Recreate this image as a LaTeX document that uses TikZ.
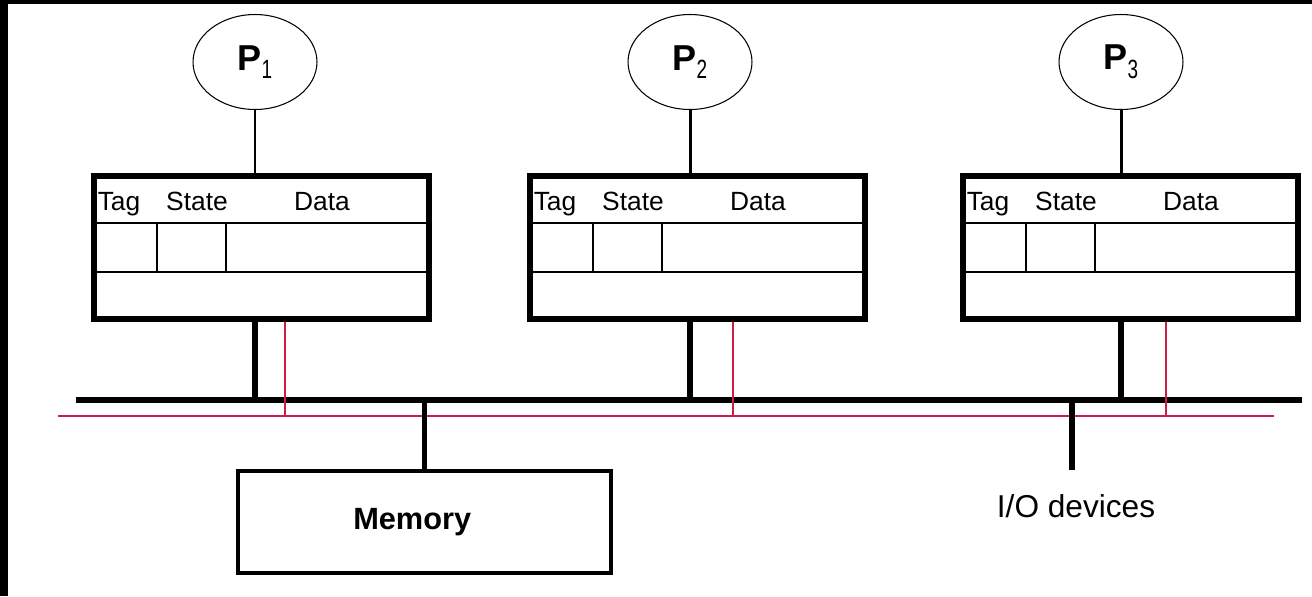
\documentclass[tikz,border=0pt]{standalone}
\usepackage{fontspec}
\setmainfont{Liberation Sans}
\usepackage{graphicx}
\usepackage{xcolor}
\usepackage{tikz}
\usetikzlibrary{positioning,shapes.geometric}
\definecolor{snoopred}{RGB}{205,30,75}

\begin{document}
\begin{tikzpicture}[x=0.02cm,y=-0.02cm,
  proc/.style={draw,ellipse,line width=0.6pt,minimum width=2.48cm,minimum height=1.9cm,inner sep=0pt},
  cachebox/.style={draw,line width=3.1pt,minimum width=6.7cm,minimum height=2.86cm,inner sep=0pt},
  membox/.style={draw,line width=2.3pt,minimum width=7.48cm,minimum height=2.04cm,inner sep=0pt,
    font=\fontsize{17.5}{20}\selectfont\bfseries},
  field/.style={anchor=base,inner sep=0pt,font=\fontsize{15}{17}\selectfont},
  buswire/.style={line width=3pt},
  snoop/.style={draw=snoopred,line width=0.9pt}]
\useasboundingbox (0,0) rectangle (1312,596);
\fill[white] (0,0) rectangle (1312,596);
\fill[black] (0,0) rectangle (1312,4);
\fill[black] (0,0) rectangle (8,596);
\coordinate (busL) at (76,400);
\coordinate (busR) at (1302,400);
\coordinate (snoopL) at (58,416);
\coordinate (snoopR) at (1274,416);
\draw[buswire] (busL) -- (busR);
\draw[snoop] (snoopL) -- (snoopR);
\foreach \i/\bx/\px/\rx in {1/91/255/285, 2/527/690/733, 3/960/1121/1166}{
  \node[proc] (P\i) at (\px,62)
    {\fontsize{20.5}{22}\selectfont\bfseries P\raisebox{-5pt}{\scalebox{0.72}[1]{\fontsize{15}{16}\mdseries\selectfont\i}}};
  \node[cachebox] (c\i) at (\bx+170.5,247.5) {};
  \draw[line width=1.1pt] (\bx+3,223) -- (\bx+338,223) (\bx+3,272) -- (\bx+338,272)
    (\bx+66,223) -- (\bx+66,272) (\bx+135,223) -- (\bx+135,272);
  \node[field] (tag\i) at (\bx+28,210) {Tag};
  \node[field] (state\i) at (\bx+106,210) {State};
  \node[field] (data\i) at (\bx+231,210) {Data};
  \draw[line width=1.7pt] (P\i.south) -- (P\i.south |- c\i.north);
  \draw[buswire] (P\i |- c\i.south) -- (P\i |- busL);
  \coordinate (r\i) at (\rx,416);
  \draw[snoop] (r\i |- c\i.south) -- (r\i);
}
\node[membox] (mem) at (424.5,522) {\hspace*{-14pt}Memory};
\draw[buswire] (mem.north) -- (mem.north |- busL);
\coordinate (io) at (1072,470);
\draw[buswire] (io |- busL) -- (io);
\node[anchor=base,inner sep=0pt,font=\fontsize{18}{20}\selectfont] (iodev) at (1076,517) {I/O devices};
\end{tikzpicture}
\end{document}
